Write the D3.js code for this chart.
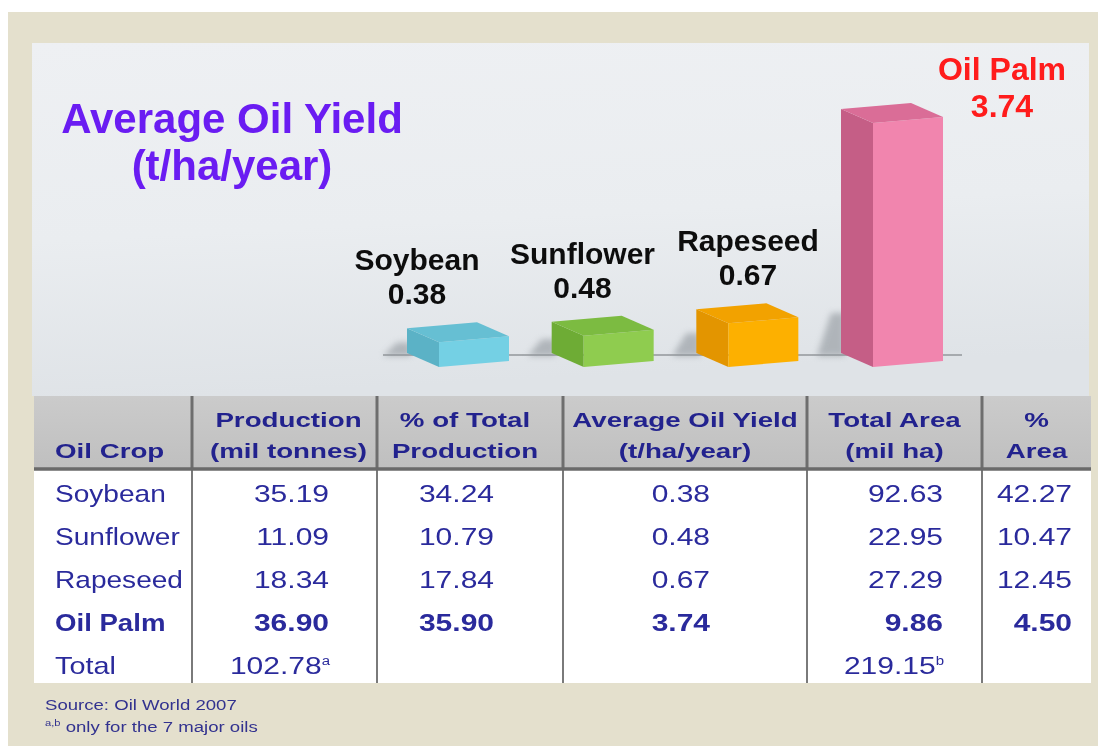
<!DOCTYPE html>
<html>
<head>
<meta charset="utf-8">
<script src="https://cdn.jsdelivr.net/npm/d3@7"></script>
<style>
  html, body { margin: 0; padding: 0; background: #ffffff; }
  svg { display: block; }
  text { font-family: "Liberation Sans", Arial, Helvetica, sans-serif; }
</style>
</head>
<body>
<svg id="chart" width="1103" height="746"></svg>
<script>
// ---------------- DATA ----------------
const titleLines = ["Average Oil Yield", "(t/ha/year)"];
const crops = ["Soybean", "Sunflower", "Rapeseed", "Oil Palm"];
const oilYield = [0.38, 0.48, 0.67, 3.74];
const production = [35.19, 11.09, 18.34, 36.90];
const pctProduction = [34.24, 10.79, 17.84, 35.90];
const totalArea = [92.63, 22.95, 27.29, 9.86];
const pctArea = [42.27, 10.47, 12.45, 4.50];
const totalRowLabel = "Total";
const totalProduction = 102.78;
const totalAreaSum = 219.15;
const headerLine1 = ["", "Production", "% of Total", "Average Oil Yield", "Total Area", "%"];
const headerLine2 = ["Oil Crop", "(mil tonnes)", "Production", "(t/ha/year)", "(mil ha)", "Area"];
const sourceNote = "Source: Oil World 2007";
const footNote = " only for the 7 major oils";
const highlightCrop = "Oil Palm";

// ---------------- STYLE / LAYOUT ----------------
const W = 1103, H = 746;
const svg = d3.select("#chart");
const defs = svg.append("defs");
const fmt = d3.format(".2f");

const barColors = {
  "Soybean":   { front: "#74d0e4", side: "#5bb2c6", top: "#66bfd3" },
  "Sunflower": { front: "#8fcc4f", side: "#6eac35", top: "#7cbb41" },
  "Rapeseed":  { front: "#fdb000", side: "#e39500", top: "#f2a200" },
  "Oil Palm":  { front: "#f185ae", side: "#c55e86", top: "#da6d97" }
};

const pg = defs.append("linearGradient").attr("id", "panelGrad")
  .attr("x1", 0).attr("y1", 0).attr("x2", 0.15).attr("y2", 1);
pg.append("stop").attr("offset", "0%").attr("stop-color", "#eef0f3");
pg.append("stop").attr("offset", "55%").attr("stop-color", "#eaedf0");
pg.append("stop").attr("offset", "100%").attr("stop-color", "#dfe3e7");

const hg = defs.append("linearGradient").attr("id", "headGrad")
  .attr("x1", 0).attr("y1", 0).attr("x2", 0).attr("y2", 1);
hg.append("stop").attr("offset", "0%").attr("stop-color", "#cbcbcb");
hg.append("stop").attr("offset", "100%").attr("stop-color", "#bfbfbf");

const blur = defs.append("filter").attr("id", "blur")
  .attr("x", "-50%").attr("y", "-50%").attr("width", "200%").attr("height", "200%");
blur.append("feGaussianBlur").attr("stdDeviation", 3);

const soft = defs.append("filter").attr("id", "soft")
  .attr("x", "-5%").attr("y", "-20%").attr("width", "110%").attr("height", "140%");
soft.append("feGaussianBlur").attr("stdDeviation", 0.45);

// page frame
svg.append("rect").attr("x", 0).attr("y", 0).attr("width", W).attr("height", H).attr("fill", "#ffffff");
svg.append("rect").attr("x", 8).attr("y", 12).attr("width", 1090).attr("height", H - 12).attr("fill", "#e4e0cd");

// upper panel
const panel = { x: 32, y: 43, x2: 1089, y2: 396 };
svg.append("rect").attr("x", panel.x).attr("y", panel.y)
  .attr("width", panel.x2 - panel.x).attr("height", panel.y2 - panel.y)
  .attr("fill", "url(#panelGrad)");

// ---------------- TITLE ----------------
const title = svg.append("text").attr("text-anchor", "middle")
  .attr("fill", "#6a1cf2").attr("font-weight", "bold").attr("font-size", 42)
  .attr("filter", "url(#soft)");
title.selectAll("tspan").data(titleLines).join("tspan")
  .attr("x", 232).attr("y", (d, i) => 133 + i * 47).text(d => d);

// ---------------- 3D BARS ----------------
const yb = 367;
const depth = { dx: -32, dy: -14 };
const barW = 70, slope = -6;

const x = d3.scalePoint().domain(crops).range([439, 873]);
const hScale = d3.scaleLinear().domain([0, 4]).range([0, 261]);
const labelX = d3.scalePoint().domain(crops.filter(c => c !== highlightCrop)).range([417, 748]);

const bars = crops.map((c, i) => ({ crop: c, value: oilYield[i] }));
const floorY = yb + depth.dy + 2;

const gBars = svg.append("g");
gBars.append("line")
  .attr("x1", x(crops[0]) + depth.dx - 24).attr("x2", x(crops[crops.length - 1]) + barW + 19)
  .attr("y1", floorY).attr("y2", floorY)
  .attr("stroke", "#a6aaae").attr("stroke-width", 2);

gBars.selectAll("polygon.shadow").data(bars).join("polygon")
  .attr("class", "shadow")
  .attr("points", d => {
    const h = hScale(d.value);
    const sh = Math.min(h * 0.5, 42);
    const bx = x(d.crop) + depth.dx;
    return [[bx - 24, floorY + 1], [bx + 4, floorY + 1], [bx + 4, floorY - sh], [bx - 10, floorY - sh]]
      .map(p => p.join(",")).join(" ");
  })
  .attr("fill", "#8f959b").attr("opacity", 0.6).attr("filter", "url(#blur)");

function pts(arr) { return arr.map(p => p.join(",")).join(" "); }

const box = gBars.selectAll("g.box").data(bars).join("g").attr("class", "box");
box.each(function (d) {
  const g = d3.select(this);
  const x0 = x(d.crop), h = hScale(d.value);
  const F = [x0, yb], FR = [x0 + barW, yb + slope];
  const Ft = [x0, yb - h], FRt = [x0 + barW, yb + slope - h];
  const B = [x0 + depth.dx, yb + depth.dy], Bt = [x0 + depth.dx, yb + depth.dy - h];
  const BRt = [FRt[0] + depth.dx, FRt[1] + depth.dy];
  const col = barColors[d.crop];
  g.append("polygon").attr("points", pts([B, F, Ft, Bt])).attr("fill", col.side);
  g.append("polygon").attr("points", pts([F, FR, FRt, Ft])).attr("fill", col.front);
  g.append("polygon").attr("points", pts([Ft, FRt, BRt, Bt])).attr("fill", col.top);
});

const lab = gBars.selectAll("g.lab").data(bars).join("g").attr("class", "lab")
  .attr("font-weight", "bold").attr("text-anchor", "middle").attr("filter", "url(#soft)");
lab.each(function (d) {
  const g = d3.select(this);
  const backTop = yb + depth.dy - hScale(d.value);
  const hi = d.crop === highlightCrop;
  const cx = hi ? x(d.crop) + barW + 59 : labelX(d.crop);
  const vy = hi ? backTop + 8 : backTop - 24;
  const ny = hi ? backTop - 29 : vy - 34;
  const fill = hi ? "#ff1a1a" : "#111111";
  const fs = hi ? 32 : 30;
  g.append("text").attr("x", cx).attr("y", ny).attr("fill", fill).attr("font-size", fs).text(d.crop);
  g.append("text").attr("x", cx).attr("y", vy).attr("fill", fill).attr("font-size", fs).text(fmt(d.value));
});

// ---------------- TABLE ----------------
const colEdges = [34, 192, 377, 563, 807, 982, 1091];
const headTop = 396, headBot = 469, bodyBot = 683;
const navy = "#24248e";
const bodyColor = "#2b2b9c";

svg.append("rect").attr("x", colEdges[0]).attr("y", headTop)
  .attr("width", colEdges[6] - colEdges[0]).attr("height", headBot - headTop)
  .attr("fill", "url(#headGrad)");
svg.append("rect").attr("x", colEdges[0]).attr("y", headBot)
  .attr("width", colEdges[6] - colEdges[0]).attr("height", bodyBot - headBot)
  .attr("fill", "#ffffff");

const innerEdges = colEdges.slice(1, -1);
svg.selectAll("line.vdivH").data(innerEdges).join("line").attr("class", "vdivH")
  .attr("x1", d => d).attr("x2", d => d).attr("y1", headTop).attr("y2", headBot)
  .attr("stroke", "#6e6e6e").attr("stroke-width", 3);
svg.selectAll("line.vdivB").data(innerEdges).join("line").attr("class", "vdivB")
  .attr("x1", d => d).attr("x2", d => d).attr("y1", headBot).attr("y2", bodyBot)
  .attr("stroke", "#7a7a7a").attr("stroke-width", 2);
svg.append("line").attr("x1", colEdges[0]).attr("x2", colEdges[6])
  .attr("y1", headBot).attr("y2", headBot).attr("stroke", "#6a6a6a").attr("stroke-width", 3.5);

const headSx = 1.32, bodySx = 1.2, footSx = 1.24;
const headCenters = d3.range(6).map(i => (colEdges[i] + colEdges[i + 1]) / 2 + (i === 1 ? 4 : i === 2 ? -5 : 0));
const gHead = svg.append("g").attr("fill", navy).attr("font-weight", "bold").attr("font-size", 21)
  .attr("filter", "url(#soft)");
headerLine1.forEach((t, i) => {
  if (!t) return;
  gHead.append("text").attr("text-anchor", "middle")
    .attr("transform", `translate(${headCenters[i]},427) scale(${headSx},1)`).text(t);
});
headerLine2.forEach((t, i) => {
  const anchor = i === 0 ? "start" : "middle";
  const xx = i === 0 ? 55 : headCenters[i];
  gHead.append("text").attr("text-anchor", anchor)
    .attr("transform", `translate(${xx},458) scale(${headSx},1)`).text(t);
});

const rowY = d3.scalePoint().domain(d3.range(5)).range([502, 674]);
const rightEdges = [null, 329, 494, 710, 943, 1072];
const gBody = svg.append("g").attr("fill", bodyColor).attr("font-size", 24).attr("filter", "url(#soft)");
crops.forEach((c, r) => {
  const bold = c === highlightCrop ? "bold" : "normal";
  const vals = [production[r], pctProduction[r], oilYield[r], totalArea[r], pctArea[r]];
  gBody.append("text").attr("font-weight", bold).attr("text-anchor", "start")
    .attr("transform", `translate(55,${rowY(r)}) scale(${c === highlightCrop ? 1.15 : 1.17},1)`).text(c);
  vals.forEach((v, k) => {
    gBody.append("text").attr("font-weight", bold).attr("text-anchor", "end")
      .attr("transform", `translate(${rightEdges[k + 1]},${rowY(r)}) scale(${bodySx + 0.05},1)`).text(fmt(v));
  });
});
const tr = rowY(4);
gBody.append("text").attr("text-anchor", "start")
  .attr("transform", `translate(55,${tr}) scale(${bodySx},1)`).text(totalRowLabel);
const t1 = gBody.append("text").attr("text-anchor", "end")
  .attr("transform", `translate(${rightEdges[1] + 1},${tr}) scale(${bodySx + 0.05},1)`);
t1.append("tspan").text(fmt(totalProduction));
t1.append("tspan").attr("font-size", 12).attr("dy", -9).text("a");
const t2 = gBody.append("text").attr("text-anchor", "end")
  .attr("transform", `translate(${rightEdges[4] + 1},${tr}) scale(${bodySx + 0.05},1)`);
t2.append("tspan").text(fmt(totalAreaSum));
t2.append("tspan").attr("font-size", 12).attr("dy", -9).text("b");

// ---------------- FOOTER ----------------
const gFoot = svg.append("g").attr("fill", "#33338f").attr("font-size", 15).attr("filter", "url(#soft)");
gFoot.append("text").attr("transform", `translate(45,710) scale(${footSx},1)`).text(sourceNote);
const fn = gFoot.append("text").attr("transform", `translate(45,732) scale(${footSx},1)`);
fn.append("tspan").attr("font-size", 9).attr("dy", -6).text("a,b");
fn.append("tspan").attr("dy", 6).text(footNote);
</script>
</body>
</html>
